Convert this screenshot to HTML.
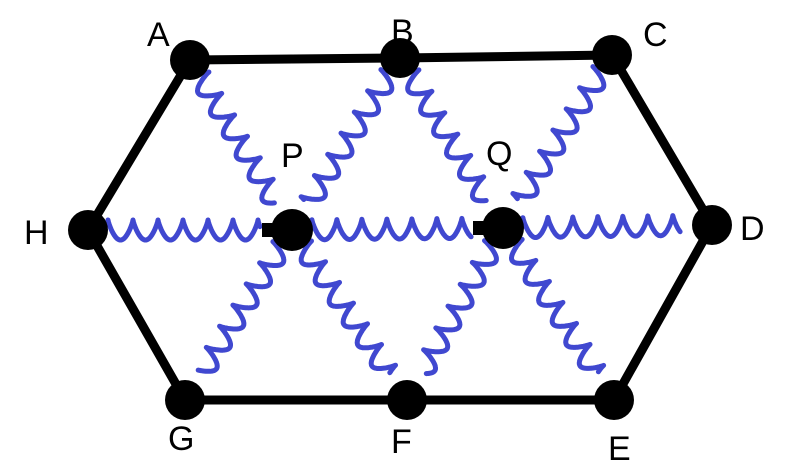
<!DOCTYPE html>
<html><head><meta charset="utf-8"><style>
body{margin:0;background:#fff}
svg{display:block}
text{font-family:"Liberation Sans","DejaVu Sans",sans-serif;font-size:34px;fill:#000}
</style></head><body>
<svg id="s" width="797" height="462" viewBox="0 0 797 462">
<polygon points="190,60 400,58 612,55 712,225 614,400 407,400 185,400 88,230" fill="none" stroke="#000" stroke-width="9" stroke-linejoin="round"/>
<g id="sp" fill="none" stroke="#4048d0" stroke-width="5" stroke-linecap="round" stroke-linejoin="round"></g>
<g fill="#000">
<circle cx="190" cy="60" r="20"/><circle cx="400" cy="58" r="20"/><circle cx="612" cy="55" r="20"/>
<circle cx="712" cy="225" r="20"/><circle cx="614" cy="400" r="20"/><circle cx="407" cy="400" r="20"/>
<circle cx="185" cy="400" r="20"/><circle cx="88" cy="230" r="20"/>
<circle cx="292" cy="230" r="21"/><rect x="262" y="223" width="20" height="14"/>
<circle cx="503" cy="228" r="21"/><rect x="473" y="221" width="20" height="14"/>
</g>
<text x="147" y="46">A</text><text x="391" y="43">B</text><text x="643" y="46">C</text>
<text x="740" y="240">D</text><text x="608" y="460">E</text><text x="391" y="453">F</text>
<text x="168" y="450">G</text><text x="24" y="244">H</text>
<text x="281" y="167">P</text><text x="486" y="165">Q</text>
</svg>
<script>
var N={A:[190,60],B:[400,58],C:[612,55],D:[712,225],E:[614,400],F:[407,400],G:[185,400],H:[88,230],P:[292,230],Q:[503,228]};
var L=[["H","P"],["P","Q"],["Q","D"],["A","P"],["B","P"],["B","Q"],["C","Q"],["P","G"],["P","F"],["Q","F"],["Q","E"]];
var g=document.getElementById("sp"),d="";
L.forEach(function(l){
 var a=N[l[0]],b=N[l[1]],dx=b[0]-a[0],dy=b[1]-a[1],len=Math.hypot(dx,dy);
 var ux=dx/len,uy=dy/len,nx=-uy,ny=ux; if(ny<0||(ny==0&&nx<0)){nx=-nx;ny=-ny;}
 var s0=20,s1=len-32,per=25,amp=20,first=true;
 for(var t=s0;t<=s1;t+=0.5){
  var ph=(t-s0)/per*Math.PI, off=amp*Math.pow(Math.abs(Math.sin(ph)),0.8)-amp/2;
  var x=a[0]+ux*t+nx*off,y=a[1]+uy*t+ny*off;
  d+=(first?"M":"L")+x.toFixed(1)+","+y.toFixed(1);first=false;
 }
});
var p=document.createElementNS("http://www.w3.org/2000/svg","path");p.setAttribute("d",d);g.appendChild(p);
</script>
</body></html>
